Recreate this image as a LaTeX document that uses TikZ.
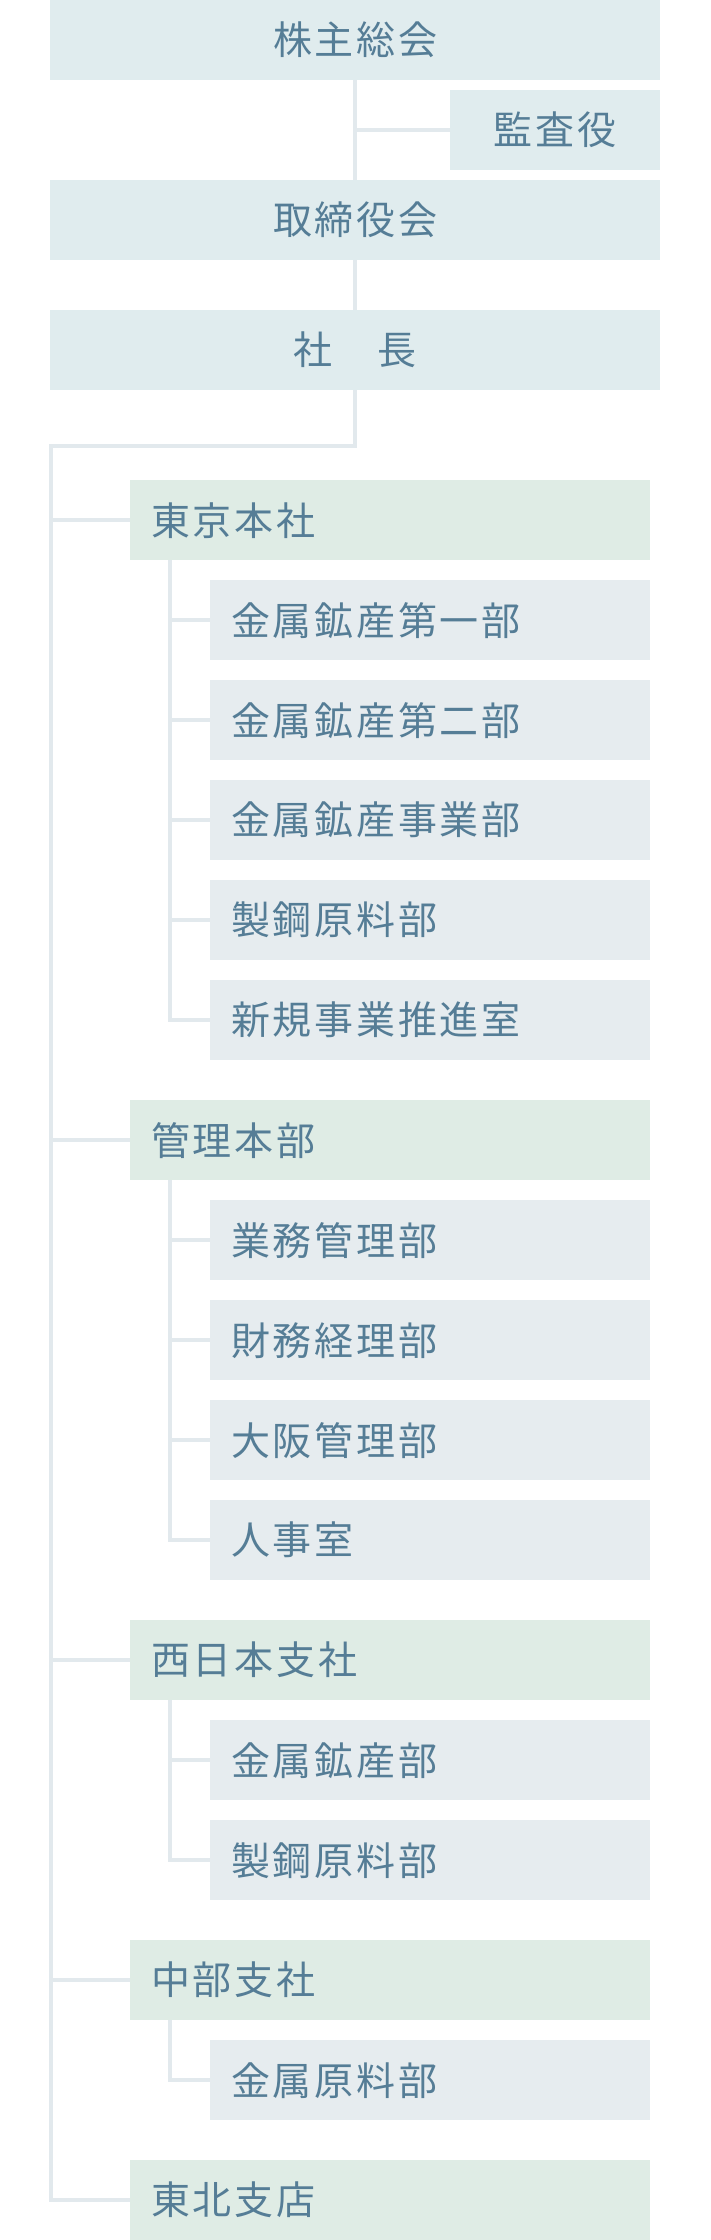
\documentclass[tikz,border=0pt]{standalone}
\usepackage{fontspec}
\usepackage{tikz}
\usetikzlibrary{positioning}
\newfontfamily\jpfont{Noto Sans CJK JP}[LetterSpace=7]
\usepackage{xcolor}
\definecolor{orgtext}{HTML}{557D96}
\definecolor{topfill}{HTML}{E0ECEE}
\definecolor{divfill}{HTML}{DFECE5}
\definecolor{subfill}{HTML}{E6ECEF}
\definecolor{orgline}{HTML}{E2E9ED}

\tikzset{
    orgbox/.style={rectangle, inner sep=0pt, minimum height=80pt, anchor=north west,
        text=orgtext, font=\jpfont\fontsize{39}{41}\selectfont},
    topbox/.style={orgbox, fill=topfill, minimum width=610pt},
    auditbox/.style={orgbox, fill=topfill, minimum width=210pt},
    divbox/.style={orgbox, fill=divfill, text width=478pt, inner xsep=21pt, align=left},
    subbox/.style={orgbox, fill=subfill, text width=398pt, inner xsep=21pt, align=left},
    conn/.style={draw=orgline, line width=4pt}
}

\begin{document}
\begin{tikzpicture}[x=1pt, y=-1pt]
    \useasboundingbox (0,0) rectangle (710,2240);

    % Top management
    \node[topbox] (gm) at (50,0) {株主総会};
    \node[auditbox] (audit) at (450,90) {監査役};
    \node[topbox] (board) at (50,180) {取締役会};
    \node[topbox] (pres) at (50,310) {社　長};

    \draw[conn] (gm.south) -- (board.north);
    \draw[conn] (audit.west) -- (audit.west -| gm.south);
    \draw[conn] (board.south) -- (pres.north);

    % Divisions
    \node[divbox] (tokyo) at (130,480) {東京本社};
    \node[divbox] (kanri) at (130,1100) {管理本部};
    \node[divbox] (nishi) at (130,1620) {西日本支社};
    \node[divbox] (chubu) at (130,1940) {中部支社};
    \node[divbox] (tohoku) at (130,2160) {東北支店};

    \coordinate (trunk) at (51,446);
    \draw[conn, line join=miter] (pres.south) |- (trunk) |- (tohoku.west);
    \foreach \d in {tokyo, kanri, nishi, chubu}
        \draw[conn] (trunk |- \d.west) -- (\d.west);

    % Departments under each division
    \foreach \i/\t in {1/金属鉱産第一部, 2/金属鉱産第二部, 3/金属鉱産事業部, 4/製鋼原料部, 5/新規事業推進室}
        \node[subbox] (tk\i) at (210,480+100*\i) {\t};
    \foreach \i/\t in {1/業務管理部, 2/財務経理部, 3/大阪管理部, 4/人事室}
        \node[subbox] (kr\i) at (210,1100+100*\i) {\t};
    \foreach \i/\t in {1/金属鉱産部, 2/製鋼原料部}
        \node[subbox] (ns\i) at (210,1620+100*\i) {\t};
    \node[subbox] (cb1) at (210,2040) {金属原料部};

    \coordinate (subx) at (170,0);
    \draw[conn, line join=miter] (tokyo.south -| subx) |- (tk5.west);
    \foreach \i in {1,...,4}
        \draw[conn] (subx |- tk\i.west) -- (tk\i.west);
    \draw[conn, line join=miter] (kanri.south -| subx) |- (kr4.west);
    \foreach \i in {1,...,3}
        \draw[conn] (subx |- kr\i.west) -- (kr\i.west);
    \draw[conn, line join=miter] (nishi.south -| subx) |- (ns2.west);
    \draw[conn] (subx |- ns1.west) -- (ns1.west);
    \draw[conn, line join=miter] (chubu.south -| subx) |- (cb1.west);
\end{tikzpicture}
\end{document}
